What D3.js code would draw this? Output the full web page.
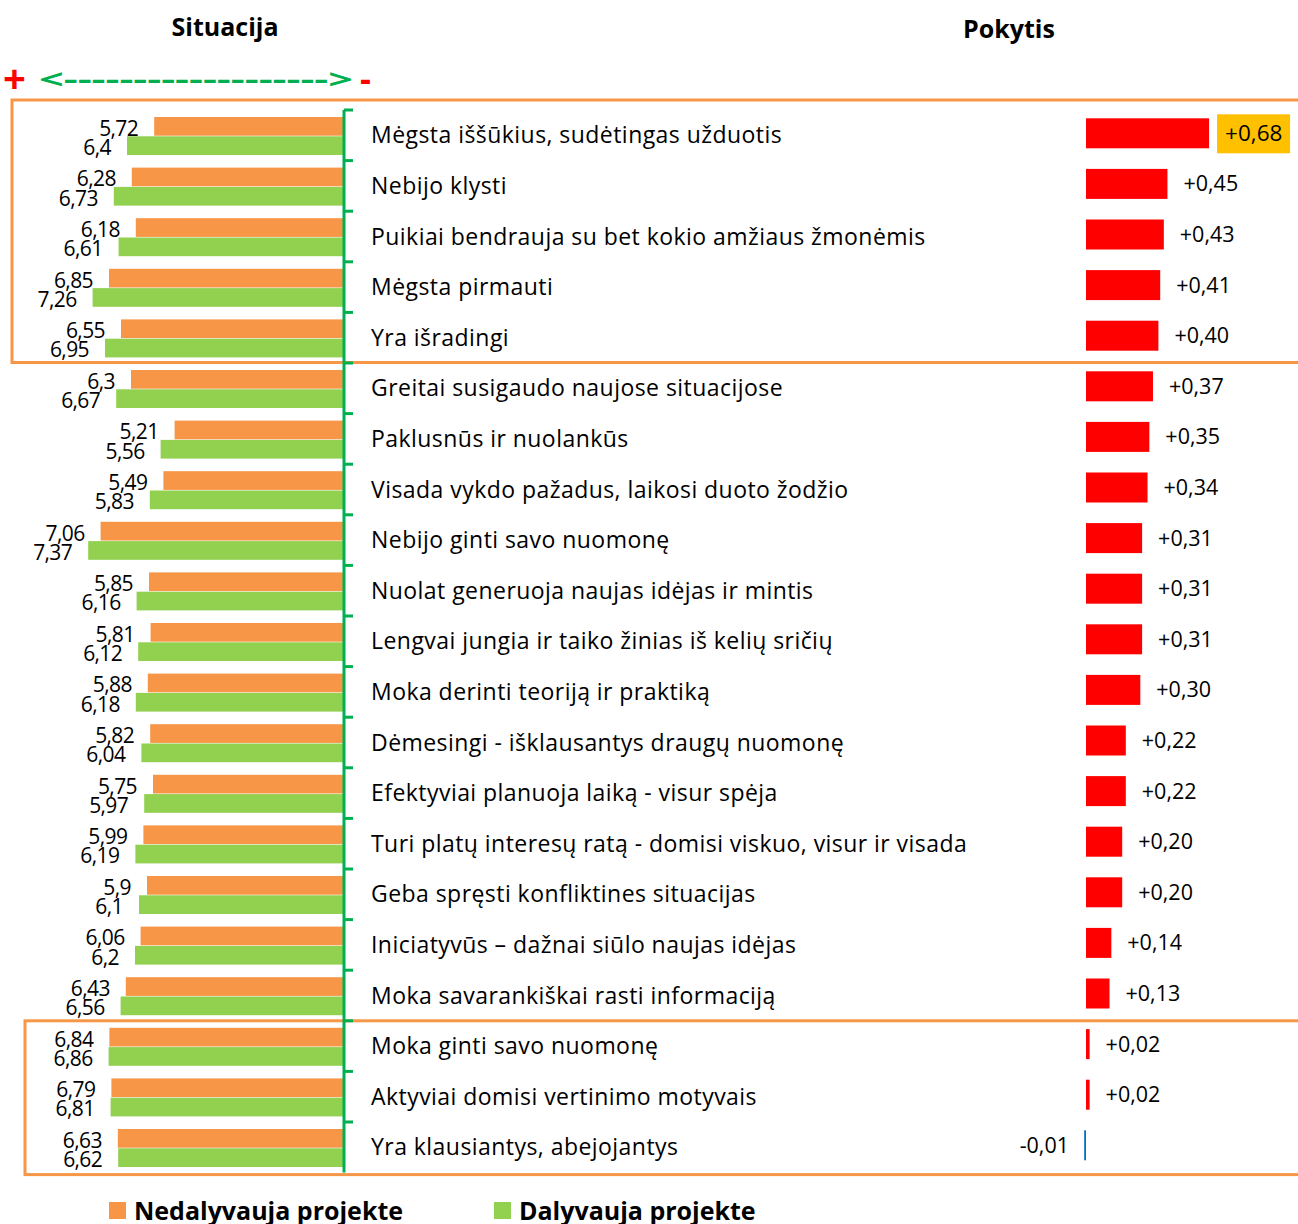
<!DOCTYPE html>
<html lang="lt">
<head>
<meta charset="utf-8">
<title>Situacija ir pokytis</title>
<script src="https://cdn.jsdelivr.net/npm/d3@7"></script>
<style>
  body { margin: 0; background: #fff; }
  svg text { font-family: "Open Sans", Lato, sans-serif; fill: #000; }
</style>
</head>
<body>
<script>
// categories (top to bottom)
var categories = [
  "Mėgsta iššūkius, sudėtingas užduotis",
  "Nebijo klysti",
  "Puikiai bendrauja su bet kokio amžiaus žmonėmis",
  "Mėgsta pirmauti",
  "Yra išradingi",
  "Greitai susigaudo naujose situacijose",
  "Paklusnūs ir nuolankūs",
  "Visada vykdo pažadus, laikosi duoto žodžio",
  "Nebijo ginti savo nuomonę",
  "Nuolat generuoja naujas idėjas ir mintis",
  "Lengvai jungia ir taiko žinias iš kelių sričių",
  "Moka derinti teoriją ir praktiką",
  "Dėmesingi - išklausantys draugų nuomonę",
  "Efektyviai planuoja laiką - visur spėja",
  "Turi platų interesų ratą - domisi viskuo, visur ir visada",
  "Geba spręsti konfliktines situacijas",
  "Iniciatyvūs – dažnai siūlo naujas idėjas",
  "Moka savarankiškai rasti informaciją",
  "Moka ginti savo nuomonę",
  "Aktyviai domisi vertinimo motyvais",
  "Yra klausiantys, abejojantys"
];
// Nedalyvauja projekte
var nedalyvauja = [5.72, 6.28, 6.18, 6.85, 6.55, 6.3, 5.21, 5.49, 7.06, 5.85, 5.81,
                   5.88, 5.82, 5.75, 5.99, 5.9, 6.06, 6.43, 6.84, 6.79, 6.63];
// Dalyvauja projekte
var dalyvauja = [6.4, 6.73, 6.61, 7.26, 6.95, 6.67, 5.56, 5.83, 7.37, 6.16, 6.12,
                 6.18, 6.04, 5.97, 6.19, 6.1, 6.2, 6.56, 6.86, 6.81, 6.62];
// Pokytis
var pokytis = [0.68, 0.45, 0.43, 0.41, 0.40, 0.37, 0.35, 0.34, 0.31, 0.31, 0.31,
               0.30, 0.22, 0.22, 0.20, 0.20, 0.14, 0.13, 0.02, 0.02, -0.01];
var seriesNames = ["Nedalyvauja projekte", "Dalyvauja projekte"];
var seriesColors = ["#F79646", "#92D050"];

var W = 1298, H = 1224;
var topY = 110, rowH = 50.6;
var axisX = 344;      // green axis of left panel
var zeroX = 1086;     // zero line of change bars

var svg = d3.select("body").append("svg")
  .attr("width", W).attr("height", H);

var fmt = function(v) { return String(v).replace(".", ","); };
var fmtChange = function(v) { return (v > 0 ? "+" : "") + v.toFixed(2).replace(".", ","); };

// row scale
var y = d3.scaleBand()
  .domain(d3.range(categories.length))
  .range([topY, topY + rowH * categories.length]);

var ySub = d3.scaleBand()
  .domain([0, 1])
  .range([7, rowH - 5.6])
  .paddingInner(0.03);

// left scale grows leftwards, axis starts at 1
var xLeft = d3.scaleLinear().domain([1, 8]).range([axisX - 1, axisX - 1 - 280]);
var xChange = d3.scaleLinear().domain([0, 1]).range([zeroX, zeroX + 181]);

// titles
svg.append("text").attr("x", 225).attr("y", 36).attr("text-anchor", "middle")
  .attr("font-size", 25).attr("font-weight", "bold").text("Situacija");
svg.append("text").attr("x", 1009).attr("y", 38).attr("text-anchor", "middle")
  .attr("font-size", 25).attr("font-weight", "bold").text("Pokytis");

// + <-----> - direction hint
svg.append("text").attr("x", 3).attr("y", 93)
  .attr("font-size", 40).attr("font-weight", "bold").style("fill", "#FF0000").text("+");
svg.append("text").attr("x", 39).attr("y", 89)
  .attr("textLength", 314).attr("lengthAdjust", "spacingAndGlyphs")
  .attr("font-size", 26).attr("font-weight", "bold").style("fill", "#00B050")
  .text("<------------------->");
svg.append("text").attr("x", 360).attr("y", 91)
  .attr("font-size", 34).attr("font-weight", "bold").style("fill", "#FF0000").text("-");

// highlight boxes
function box(x0, y0, y1) {
  svg.append("rect").attr("x", x0).attr("y", y0)
    .attr("width", W + 20 - x0).attr("height", y1 - y0)
    .attr("fill", "none").attr("stroke", "#F79646").attr("stroke-width", 3);
}
box(12, 100, y(5) - 0.5);
box(25, y(18), y(20) + y.bandwidth() + 2);

var rows = svg.selectAll("g.row")
  .data(categories)
  .enter().append("g")
  .attr("class", "row")
  .attr("transform", function(d, i) { return "translate(0," + y(i) + ")"; });

// left bars
[nedalyvauja, dalyvauja].forEach(function(vals, s) {
  rows.append("rect")
    .attr("x", function(d, i) { return xLeft(vals[i]); })
    .attr("y", ySub(s))
    .attr("width", function(d, i) { return xLeft(1) - xLeft(vals[i]); })
    .attr("height", ySub.bandwidth())
    .attr("fill", seriesColors[s]);
  rows.append("text")
    .attr("x", function(d, i) { return xLeft(vals[i]) - 16; })
    .attr("y", ySub(s) + ySub.bandwidth())
    .attr("text-anchor", "end")
    .attr("font-size", 21)
    .attr("letter-spacing", -0.6)
    .text(function(d, i) { return fmt(vals[i]); });
});

// category labels
rows.append("text")
  .attr("x", 371)
  .attr("y", rowH / 2)
  .attr("dy", "0.35em")
  .attr("font-size", 23)
  .attr("letter-spacing", 0.45)
  .text(function(d) { return d; });

// change bars
var cH = 30;
rows.append("rect")
  .attr("x", function(d, i) { return Math.min(xChange(pokytis[i]), xChange(0)); })
  .attr("y", rowH / 2 - cH / 2 - 2)
  .attr("width", function(d, i) { return Math.abs(xChange(pokytis[i]) - xChange(0)); })
  .attr("height", cH)
  .attr("fill", function(d, i) { return pokytis[i] < 0 ? "#0070C0" : "#FF0000"; });

// highlight label for the max
var maxI = d3.maxIndex(pokytis);
rows.filter(function(d, i) { return i === maxI; })
  .append("rect")
  .attr("x", function() { return xChange(pokytis[maxI]) + 8; })
  .attr("y", rowH / 2 - 21)
  .attr("width", 73).attr("height", 39)
  .attr("fill", "#FFC000");

rows.append("text")
  .attr("x", function(d, i) {
    return pokytis[i] < 0 ? xChange(0) - 17 : xChange(pokytis[i]) + 16;
  })
  .attr("y", rowH / 2 - 2)
  .attr("dy", "0.35em")
  .attr("text-anchor", function(d, i) { return pokytis[i] < 0 ? "end" : "start"; })
  .attr("font-size", function(d, i) { return i === maxI ? 22.5 : 21.5; })
  .text(function(d, i) { return fmtChange(pokytis[i]); });

// green axis with ticks at row boundaries
var axisG = svg.append("g").attr("transform", "translate(" + axisX + ",0)");
axisG.append("line")
  .attr("x1", 0).attr("x2", 0)
  .attr("y1", topY).attr("y2", topY + rowH * categories.length)
  .attr("stroke", "#00B050").attr("stroke-width", 3);
axisG.selectAll("line.tick")
  .data(d3.range(categories.length))
  .enter().append("line")
  .attr("class", "tick")
  .attr("x1", 0).attr("x2", 9)
  .attr("y1", function(i) { return y(i); })
  .attr("y2", function(i) { return y(i); })
  .attr("stroke", "#00B050").attr("stroke-width", 3);

// legend
var legendX = [109, 494];
var legend = svg.selectAll("g.legend")
  .data(seriesNames)
  .enter().append("g")
  .attr("class", "legend")
  .attr("transform", function(d, i) { return "translate(" + legendX[i] + ",1202)"; });
legend.append("rect")
  .attr("width", 17).attr("height", 17)
  .attr("fill", function(d, i) { return seriesColors[i]; });
legend.append("text")
  .attr("x", 25).attr("y", 18)
  .attr("font-size", 25).attr("font-weight", "bold")
  .text(function(d) { return d; });
</script>
</body>
</html>
